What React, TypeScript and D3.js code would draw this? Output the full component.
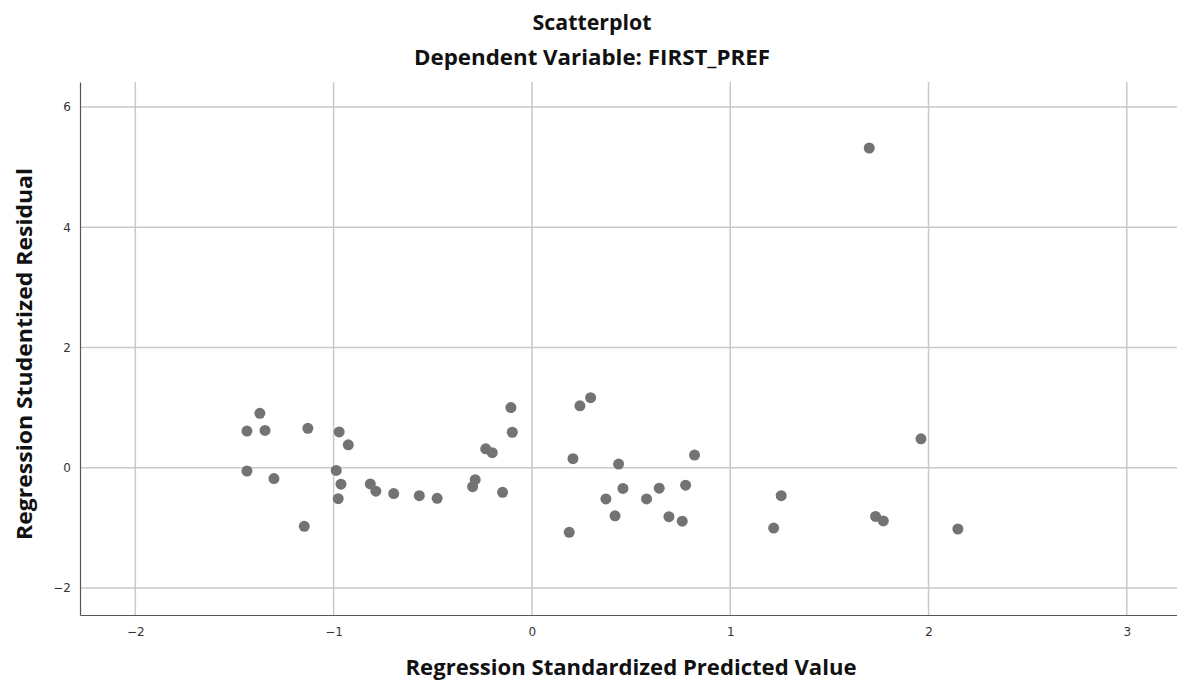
import { useEffect, useRef } from "react";
import * as d3 from "d3";

// Regression Standardized Predicted Value (x) and Studentized Residual (y)
const predicted = [
  -1.437, -1.372, -1.346, -1.437, -1.301, -1.148, -1.13, -0.972, -0.926, -0.987,
  -0.963, -0.977, -0.815, -0.787, -0.697, -0.568, -0.478, -0.299, -0.286, -0.233,
  -0.2, -0.148, -0.106, -0.099, 0.207, 0.188, 0.242, 0.296, 0.437, 0.459,
  0.373, 0.419, 0.578, 0.642, 0.691, 0.758, 0.775, 0.82, 1.219, 1.257,
  1.701, 1.733, 1.772, 1.962, 2.148,
];
const residual = [
  0.61, 0.905, 0.62, -0.055, -0.18, -0.975, 0.655, 0.595, 0.38, -0.045,
  -0.275, -0.515, -0.27, -0.39, -0.43, -0.465, -0.51, -0.315, -0.2, 0.315,
  0.25, -0.41, 1.0, 0.59, 0.15, -1.075, 1.03, 1.165, 0.06, -0.345,
  -0.52, -0.8, -0.52, -0.34, -0.815, -0.89, -0.29, 0.21, -1.005, -0.465,
  5.32, -0.81, -0.885, 0.48, -1.02,
];
const xTicks = [-2, -1, 0, 1, 2, 3];
const yTicks = [-2, 0, 2, 4, 6];

const title = "Scatterplot";
const subtitle = "Dependent Variable: FIRST_PREF";
const xLabel = "Regression Standardized Predicted Value";
const yLabel = "Regression Studentized Residual";

const width = 1177;
const height = 684;
const margin = { top: 82, right: 0, bottom: 69, left: 80 };

export default function App() {
  const svgRef = useRef<SVGSVGElement | null>(null);

  useEffect(() => {
    const svg = d3.select(svgRef.current);
    svg.selectAll("*").remove();

    const x = d3.scaleLinear().domain([-2.279, 3.253]).range([margin.left, width - margin.right]);
    const y = d3.scaleLinear().domain([-2.451, 6.418]).range([height - margin.bottom, margin.top]);

    const titleFont = "'Open Sans', 'Noto Sans', sans-serif";
    const tickFont = "'DejaVu Sans', 'Noto Sans', sans-serif";

    // grid lines
    const grid = svg.append("g");
    grid.selectAll("line.v")
      .data(xTicks)
      .join("line")
      .attr("class", "v")
      .attr("x1", (d) => x(d)).attr("x2", (d) => x(d))
      .attr("y1", margin.top).attr("y2", height - margin.bottom)
      .attr("stroke", "#c9c9c9").attr("stroke-width", 1.5);
    grid.selectAll("line.h")
      .data(yTicks)
      .join("line")
      .attr("class", "h")
      .attr("x1", margin.left).attr("x2", width - margin.right)
      .attr("y1", (d) => y(d)).attr("y2", (d) => y(d))
      .attr("stroke", "#c9c9c9").attr("stroke-width", 1.5);

    // axes
    const xAxis = svg.append("g")
      .attr("transform", `translate(0,${height - margin.bottom})`)
      .call(d3.axisBottom(x).tickValues(xTicks).tickSize(0).tickPadding(12).tickFormat(d3.format("d")));
    xAxis.select(".domain").attr("stroke", "#555").attr("stroke-width", 1.2);
    xAxis.selectAll("text").attr("font-family", tickFont).attr("font-size", 12).attr("fill", "#333");

    const yAxis = svg.append("g")
      .attr("transform", `translate(${margin.left},0)`)
      .call(d3.axisLeft(y).tickValues(yTicks).tickSize(0).tickPadding(9).tickFormat(d3.format("d")));
    yAxis.select(".domain").attr("stroke", "#555").attr("stroke-width", 1.2);
    yAxis.selectAll("text").attr("font-family", tickFont).attr("font-size", 12).attr("fill", "#333");

    // points
    svg.append("g")
      .selectAll("circle")
      .data(predicted.map((p, i) => [p, residual[i]]))
      .join("circle")
      .attr("cx", (d) => x(d[0]))
      .attr("cy", (d) => y(d[1]))
      .attr("r", 5.5)
      .attr("fill", "#737373");

    // titles (source font is narrower, so widths are pinned)
    const label = (txt: string, size: number, len: number) =>
      svg.append("text")
        .attr("text-anchor", "middle")
        .attr("font-family", titleFont).attr("font-weight", "bold").attr("font-size", size)
        .attr("fill", "#111")
        .attr("textLength", len).attr("lengthAdjust", "spacingAndGlyphs")
        .text(txt);

    label(title, 21, 119).attr("x", 592).attr("y", 30);
    label(subtitle, 21, 356).attr("x", 592).attr("y", 65);
    label(xLabel, 22, 451).attr("x", 631).attr("y", 675);
    label(yLabel, 22, 372).attr("transform", "translate(32,354) rotate(-90)");
  }, []);

  return (
    <svg
      ref={svgRef}
      width={width}
      height={height}
      style={{ position: "absolute", left: 0, top: 0, background: "#fff" }}
    />
  );
}
